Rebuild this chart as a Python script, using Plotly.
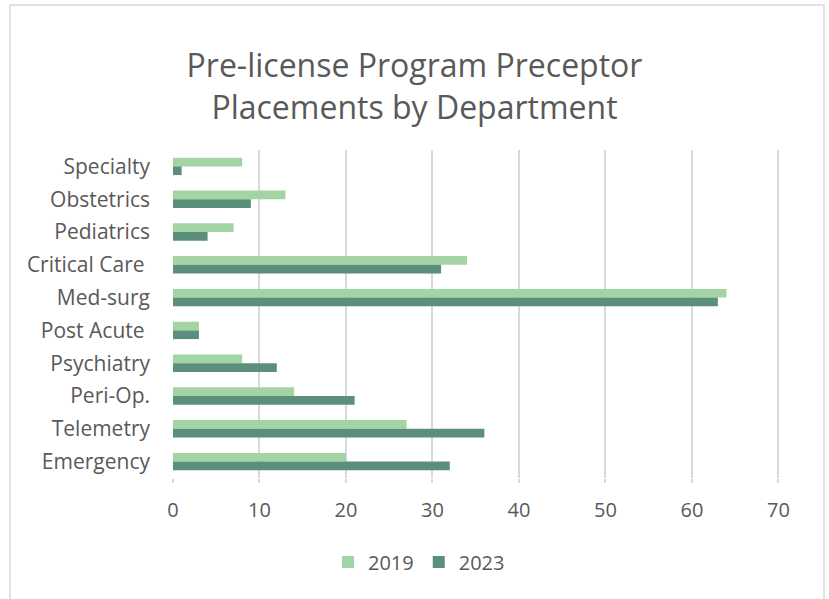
import plotly.graph_objects as go

categories = ["Specialty", "Obstetrics", "Pediatrics", "Critical Care\u00a0", "Med-surg",
              "Post Acute\u00a0", "Psychiatry", "Peri-Op.", "Telemetry", "Emergency"]
values_2019 = [8, 13, 7, 34, 64, 3, 8, 14, 27, 20]
values_2023 = [1, 9, 4, 31, 63, 3, 12, 21, 36, 32]
x_ticks = [0, 10, 20, 30, 40, 50, 60, 70]

TXT = "#595959"
FONT = "Open Sans"

fig = go.Figure()
fig.add_trace(go.Bar(y=categories, x=values_2019, name="2019", orientation="h",
                     marker=dict(color="#A3D4A3", line=dict(width=0))))
fig.add_trace(go.Bar(y=categories, x=values_2023, name="2023", orientation="h",
                     marker=dict(color="#5B8F7C", line=dict(width=0))))

W, H = 829, 599
L, R, T, B = 173, 48, 150, 121
pw, ph = W - L - R, H - T - B

def px_x(p):
    return (p - L) / pw

def px_y(p):
    return (H - B - p) / ph

fig.update_layout(
    width=W, height=H,
    margin=dict(l=L, r=R, t=T, b=B),
    paper_bgcolor="white", plot_bgcolor="white",
    barmode="group", bargap=0.47, bargroupgap=0,
    font=dict(family=FONT, color=TXT),
    title=dict(text="Pre-license Program Preceptor<br>Placements by Department",
               x=0.5, xref="container", xanchor="center",
               y=1 - 77 / H, yref="container", yanchor="middle",
               font=dict(family=FONT, size=32, color=TXT)),
    xaxis=dict(range=[0, 70.3], tickvals=x_ticks, showgrid=True, gridcolor="#D9D9D9",
               gridwidth=1.5, zeroline=False, showline=False,
               ticks="outside", ticklen=4, tickcolor="#D9D9D9", tickwidth=1.5,
               ticklabelstandoff=10,
               tickfont=dict(family=FONT, size=20, color=TXT), fixedrange=True),
    yaxis=dict(autorange="reversed", showgrid=False, zeroline=False, showline=False,
               ticks="", ticklabelstandoff=22,
               tickfont=dict(family=FONT, size=21, color=TXT), fixedrange=True),
    legend=dict(orientation="h", x=419 / W, xanchor="center", xref="container",
                y=1 - 562 / H, yanchor="middle", yref="container",
                font=dict(family=FONT, size=20, color=TXT), itemwidth=30,
                tracegroupgap=0, traceorder="normal"),
    showlegend=True,
    shapes=[dict(type="rect", xref="paper", yref="paper",
                 x0=px_x(10), x1=px_x(824),
                 y0=px_y(620), y1=px_y(5),
                 line=dict(color="#D9D9D9", width=1.5), fillcolor="rgba(0,0,0,0)",
                 layer="below")],
)

fig.write_html("out.html", config={"displayModeBar": False},
               post_script="document.body.style.margin='0';document.body.style.padding='0';")
